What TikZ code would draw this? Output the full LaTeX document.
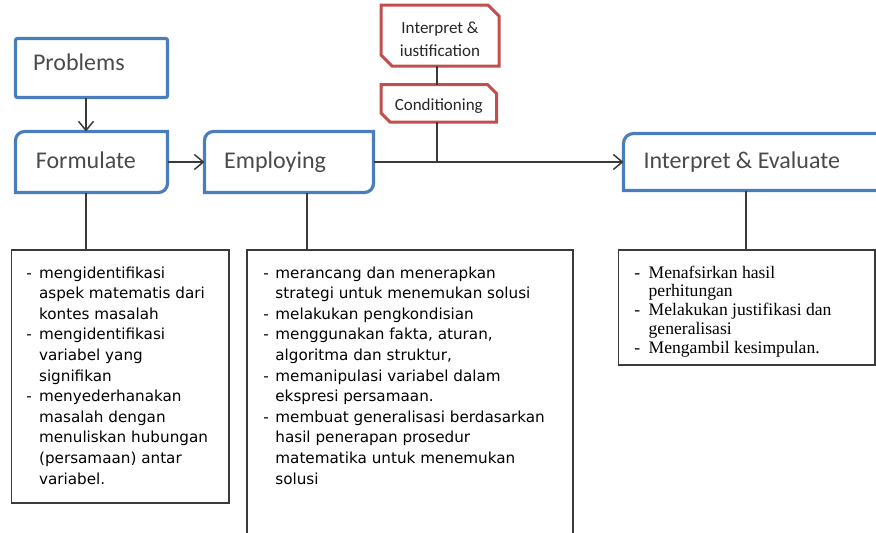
\documentclass[tikz,border=0pt]{standalone}
\usepackage{fontspec}
\setmainfont{Carlito}
\newfontfamily\tahomafont{DejaVu Sans}
\newfontfamily\timesfont{Liberation Serif}
\usetikzlibrary{arrows.meta}
\definecolor{boxblue}{HTML}{4A7EBB}
\definecolor{boxred}{HTML}{C0504D}
\definecolor{linegray}{HTML}{3A3A3A}
\definecolor{labelgray}{HTML}{4A4A4A}
\newcommand\drawdiagbox[2]{\draw[blueline] (#1.west) [rounded corners=#2pt] -- (#1.north west) -- (#1.north) [sharp corners] -- (#1.north east) -- (#1.east) [rounded corners=#2pt] -- (#1.south east) -- (#1.south) [sharp corners] -- (#1.south west) -- cycle;}
\newcommand\drawsnipbox[2]{\draw[redline] (#1.north west) -- ([xshift=-#2pt]#1.north east) -- ([yshift=-#2pt]#1.north east) -- (#1.south east) -- ([xshift=#2pt]#1.south west) -- ([yshift=#2pt]#1.south west) -- cycle;}
\begin{document}
\begin{tikzpicture}[x=1pt,y=-1pt,
  bluenode/.style={inner sep=0pt, outer sep=0pt, text=labelgray, font=\fontsize{24}{28}\selectfont, text depth=0pt},
  rednode/.style={inner sep=0pt, outer sep=0pt, text=black!85, font=\fontsize{17}{23}\selectfont},
  blueline/.style={draw=boxblue, line width=3.2pt},
  redline/.style={draw=boxred, line width=3pt},
  conn/.style={draw=linegray, line width=1.5pt},
  arr/.style={conn, -{Straight Barb[length=9pt,width=15pt]}},
  tbox/.style={draw=linegray, line width=1.2pt, inner sep=0pt, outer sep=0pt},
  listsans/.style={inner sep=0pt, outer sep=0pt, anchor=base west, font=\tahomafont\fontsize{15.2}{20.6}\selectfont},
  listserif/.style={inner sep=0pt, outer sep=0pt, anchor=base west, font=\timesfont\fontsize{17.6}{18.75}\selectfont}
]
\useasboundingbox (0,0) rectangle (876,533);
\clip (0,0) rectangle (876,533);

% blue step boxes
\node[bluenode, minimum width=152pt, minimum height=59pt, text height=4pt] (P) at (91.5,68) {\makebox[117pt][l]{Problems}};
\node[bluenode, minimum width=152pt, minimum height=61pt, text height=12pt] (F) at (91.5,162) {\makebox[111.4pt][l]{Formulate}};
\node[bluenode, minimum width=169pt, minimum height=61pt, text height=12pt] (E) at (289,162) {\makebox[129.6pt][l]{Employing}};
\node[bluenode, minimum width=281pt, minimum height=57pt, text height=12pt] (IE) at (764,162) {\makebox[241pt][l]{Interpret \& Evaluate}};
\draw[blueline, rounded corners=2pt] (P.north west) rectangle (P.south east);
\drawdiagbox{F}{9}
\drawdiagbox{E}{9}
\drawdiagbox{IE}{10}

% red boxes
\node[rednode, minimum width=118pt, minimum height=61pt, text height=10pt, text depth=14.4pt] (IJ) at (440,35.5) {\begin{tabular}[t]{@{}c@{}}Interpret \&\\iustification\end{tabular}};
\node[rednode, minimum width=115.5pt, minimum height=37.5pt, text height=13.5pt, text depth=0pt] (C) at (438.75,103.25) {Conditioning};
\drawsnipbox{IJ}{11}
\drawsnipbox{C}{9}

% text boxes
\node[tbox, minimum width=217.5pt, minimum height=253pt] (b1) at (120.25,376.5) {};
\node[tbox, minimum width=326pt, minimum height=320pt] (b2) at (410,410) {};
\node[tbox, minimum width=256.5pt, minimum height=115pt] (b3) at (746.75,307.5) {};

\node[listsans] (t1) at (26.5,278) {\begin{tabular}[t]{@{}l@{\hspace{7.1pt}}l@{}}
- & mengidentifikasi\\
  & aspek matematis dari\\
  & kontes masalah\\
- & mengidentifikasi\\
  & variabel yang\\
  & signifikan\\
- & menyederhanakan\\
  & masalah dengan\\
  & menuliskan hubungan\\
  & (persamaan) antar\\
  & variabel.
\end{tabular}};
\node[listsans] (t2) at (263.3,278) {\begin{tabular}[t]{@{}l@{\hspace{6.6pt}}l@{}}
- & merancang dan menerapkan\\
  & strategi untuk menemukan solusi\\
- & melakukan pengkondisian\\
- & menggunakan fakta, aturan,\\
  & algoritma dan struktur,\\
- & memanipulasi variabel dalam\\
  & ekspresi persamaan.\\
- & membuat generalisasi berdasarkan\\
  & hasil penerapan prosedur\\
  & matematika untuk menemukan\\
  & solusi
\end{tabular}};
\node[listserif] (t3) at (634.3,278) {\begin{tabular}[t]{@{}l@{\hspace{8.5pt}}l@{}}
- & Menafsirkan hasil\\
  & perhitungan\\
- & Melakukan justifikasi dan\\
  & generalisasi\\
- & Mengambil kesimpulan.
\end{tabular}};

% connectors
\coordinate (xa) at (86,0);
\coordinate (xb) at (307,0);
\coordinate (xc) at (746,0);
\coordinate (J) at (437,162);
\draw[arr] (P.south -| xa) -- (F.north -| xa);
\draw[arr] (F.east) -- (E.west);
\draw[arr] (E.east) -- (IE.west);
\draw[conn] (IJ.south -| J) -- (C.north -| J);
\draw[conn] (C.south -| J) -- (J);
\draw[conn] (F.south -| xa) -- (b1.north -| xa);
\draw[conn] (E.south -| xb) -- (b2.north -| xb);
\draw[conn] (IE.south -| xc) -- (b3.north -| xc);
\end{tikzpicture}
\end{document}
